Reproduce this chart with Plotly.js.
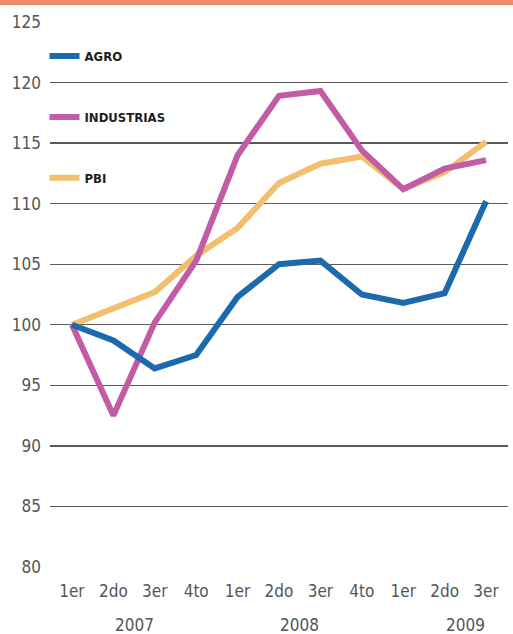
<!DOCTYPE html>
<html>
<head>
<meta charset="utf-8">
<script src="https://cdn.plot.ly/plotly-3.0.1.min.js"></script>
<style>
  html, body { margin: 0; padding: 0; background: #ffffff; }
  #wrap { position: relative; width: 513px; height: 634px; }
  #band { position: absolute; left: 0; top: 0; width: 513px; height: 5px; background: #ec8a6b; z-index: 2; }
  #chart { width: 513px; height: 634px; }
</style>
</head>
<body>
<div id="wrap">
  <div id="band"></div>
  <div id="chart"></div>
</div>
<script>
// Quarterly index (1er trimestre 2007 = 100)
const quarters = ["1er", "2do", "3er", "4to", "1er", "2do", "3er", "4to", "1er", "2do", "3er"];
const years = ["2007", "2008", "2009"];
const yearStart = [0, 4, 8];

const agro       = [100, 98.7, 96.4, 97.5, 102.3, 105.0, 105.3, 102.5, 101.8, 102.6, 110.2];
const industrias = [100, 92.5, 100.2, 105.3, 114.0, 118.9, 119.3, 114.4, 111.2, 112.9, 113.6];
const pbi        = [100, 101.3, 102.7, 105.7, 108.0, 111.7, 113.3, 113.9, 111.2, 112.6, 115.1];

const idx = quarters.map((_, i) => i);

const tickFont = { family: "'Liberation Sans Narrow', 'DejaVu Sans Condensed', 'Open Sans', sans-serif", size: 17, color: "#555555" };

function series(name, values, color, rank) {
  return {
    type: "scatter",
    mode: "lines",
    name: name,
    x: idx,
    y: values,
    legendgroup: name,
    legendrank: rank,
    line: { color: color, width: 6, shape: "linear" },
    hoverinfo: "x+y+name"
  };
}

// drawn back to front: PBI, INDUSTRIAS, AGRO
const traces = [
  series("PBI", pbi, "#f2bf6f", 3),
  series("INDUSTRIAS", industrias, "#c25ca7", 2),
  series("AGRO", agro, "#1c6aad", 1)
];

// year labels centred under each year's four quarters
const yearNotes = years.map((y, k) => ({
  text: y,
  x: yearStart[k] + 1.5,
  xref: "x",
  y: 0,
  yref: "paper",
  yanchor: "top",
  yshift: -46,
  showarrow: false,
  font: tickFont
}));

const layout = {
  width: 513,
  height: 634,
  margin: { l: 50, r: 5, t: 22, b: 67 },
  paper_bgcolor: "#ffffff",
  plot_bgcolor: "#ffffff",
  showlegend: true,
  legend: {
    x: -0.012,
    xanchor: "left",
    y: 0.965,
    yanchor: "top",
    bgcolor: "rgba(0,0,0,0)",
    tracegroupgap: 41,
    itemwidth: 30,
    font: { family: "'Liberation Sans Narrow', 'DejaVu Sans Condensed', sans-serif", size: 13, color: "#1e1e1e", weight: "bold" }
  },
  xaxis: {
    range: [-0.53, 10.53],
    tickmode: "array",
    tickvals: idx,
    ticktext: quarters,
    showgrid: false,
    zeroline: false,
    showline: false,
    ticks: "",
    ticklabelstandoff: 12,
    tickfont: tickFont,
    fixedrange: true
  },
  yaxis: {
    range: [80, 125],
    tickmode: "array",
    tickvals: [80, 85, 90, 95, 100, 105, 110, 115, 120, 125],
    showgrid: true,
    gridcolor: "#5a5a5a",
    gridwidth: 1.3,
    zeroline: false,
    showline: false,
    ticks: "",
    ticklabelstandoff: 8,
    tickfont: tickFont,
    fixedrange: true
  },
  annotations: yearNotes
};

Plotly.newPlot("chart", traces, layout, { displayModeBar: false, staticPlot: true });
</script>
</body>
</html>
